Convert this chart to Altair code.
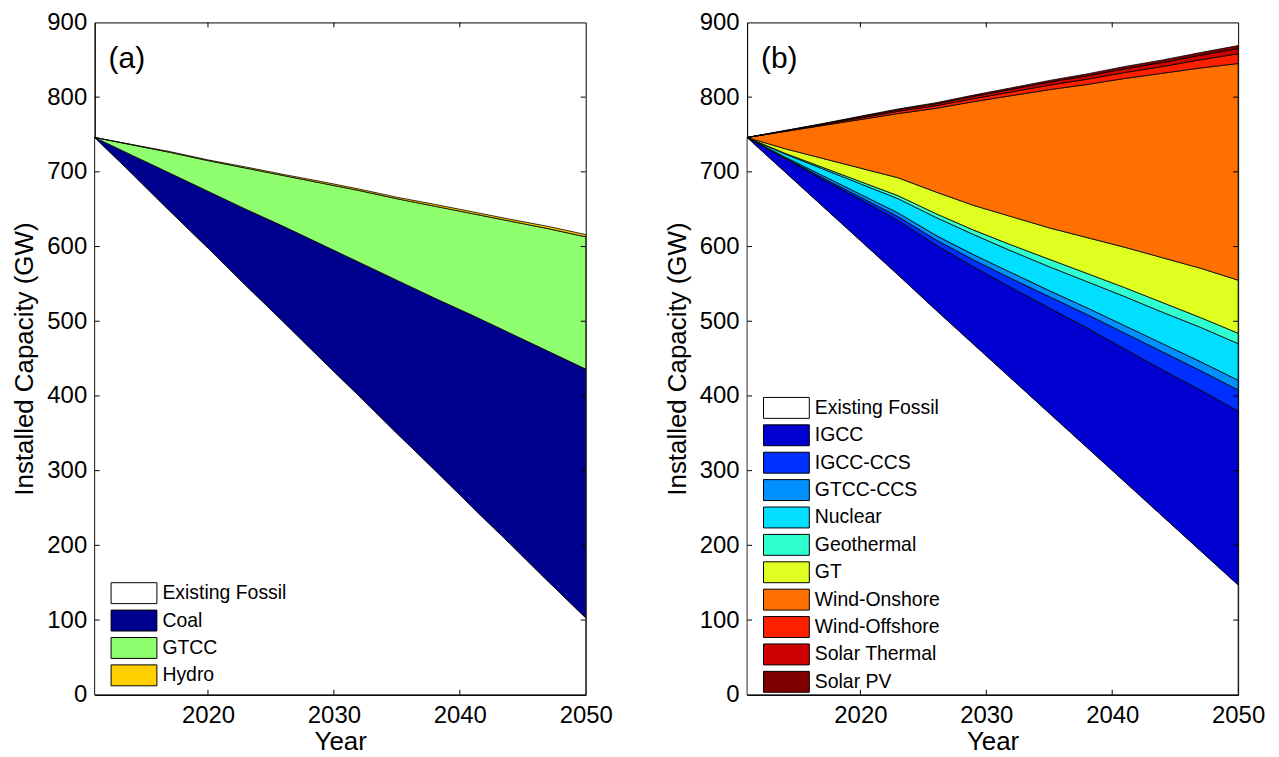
import altair as alt
import pandas as pd

FONT = "Liberation Sans"

years = [2011, 2014, 2017, 2020, 2023, 2026, 2029, 2032, 2035, 2038, 2041, 2044, 2047, 2050]

# Panel (a) layer values (GW)
a_names = ["Existing Fossil", "Coal", "GTCC", "Hydro"]
a_colors = ["#FFFFFF", "#00008F", "#8FFF70", "#FFCF00"]
a_existing = [746, 697, 647, 598, 548, 499, 449, 400, 350, 301, 251, 202, 152, 103]
a_coal = [0, 25, 51, 76, 102, 128, 154, 179, 205, 230, 257, 282, 308, 333]
a_gtcc = [0, 14, 28, 41, 55, 68, 82, 96, 109, 123, 136, 150, 164, 177]
a_hydro = [0, 0.5, 1, 1, 1.5, 1.5, 2, 2, 2, 2.5, 2.5, 2.5, 3, 3]

# Panel (b) layer values (GW)
b_names = ["Existing Fossil", "IGCC", "IGCC-CCS", "GTCC-CCS", "Nuclear", "Geothermal",
           "GT", "Wind-Onshore", "Wind-Offshore", "Solar Thermal", "Solar PV"]
b_colors = ["#FFFFFF", "#0000D0", "#0030FF", "#0090FF", "#00DFFF", "#30FFCF",
            "#DFFF20", "#FF7000", "#FF2000", "#CF0000", "#800000"]
b_existing = [746, 700, 654, 608, 562, 515, 469, 423, 377, 331, 285, 239, 193, 147]
b_igcc = [0, 18, 36, 55, 73, 87, 104, 122, 141, 160, 178, 196, 215, 233]
b_igcc_ccs = [0, 1, 2, 3, 5, 7, 9, 12, 15, 18, 21, 24, 26, 28]
b_gtcc_ccs = [0, 1, 3, 4, 5, 6, 7, 8, 8, 9, 10, 11, 12, 13]
b_nuclear = [0, 4, 9, 14, 19, 24, 27, 29, 32, 35, 39, 42, 46, 49]
b_geo = [0, 1, 2, 3, 4, 5, 6, 8, 10, 11, 12, 13, 13, 14]
b_gt = [0, 6, 12, 18, 24, 29, 33, 38, 42, 48, 54, 60, 66, 71]
b_wind_on = [0, 23, 44, 65, 86, 112, 139, 162, 185, 205, 226, 247, 268, 290]
b_wind_off = [0, 0.5, 1, 2, 3, 3.5, 4, 5, 6, 7, 8, 9, 11, 13]
b_solar_th = [0, 0.5, 1, 1.5, 2, 2.5, 3, 3.5, 4, 4.5, 5, 5.5, 6, 7]
b_solar_pv = [0, 0.3, 0.6, 1, 1.2, 1.5, 1.8, 2, 2.3, 2.6, 3, 3.3, 3.6, 4]

y_ticks = [100, 200, 300, 400, 500, 600, 700, 800]
x_ticks = [2020, 2030, 2040]
y_labels = [0, 100, 200, 300, 400, 500, 600, 700, 800, 900]
x_labels = [2020, 2030, 2040, 2050]

W, H = 493, 675
XS = alt.Scale(domain=[2011, 2050], nice=False, zero=False)
YS = alt.Scale(domain=[0, 900], nice=False)
XA = alt.Axis(values=x_labels, format="d", title="Year", ticks=False, domain=True,
              domainColor="black", grid=False, labelFlush=False, labelPadding=9, titlePadding=1)
YA = alt.Axis(values=y_labels, title="Installed Capacity (GW)", ticks=False, domain=True,
              domainColor="black", grid=False, labelPadding=8, titlePadding=9)


def long_df(names, series):
    rows = []
    for k, (n, vals) in enumerate(zip(names, series)):
        for yr, v in zip(years, vals):
            rows.append({"year": yr, "tech": n, "value": v, "order": k})
    return pd.DataFrame(rows)


def panel(names, colors, series, tag, legend_y):
    df = long_df(names, series)
    area = alt.Chart(df).mark_area(stroke="black", strokeWidth=0.8, interpolate="linear").encode(
        x=alt.X("year:Q", scale=XS, axis=XA),
        y=alt.Y("value:Q", stack="zero", scale=YS, axis=YA),
        color=alt.Color("tech:N", scale=alt.Scale(domain=names, range=colors),
                        legend=alt.Legend(orient="none", legendX=16, legendY=legend_y, title=None,
                                          symbolType="M-1,-1L3.38,-1L3.38,1L-1,1Z", symbolSize=441,
                                          symbolStrokeColor="black", symbolStrokeWidth=1,
                                          labelFont=FONT, labelFontSize=19.5, labelColor="black",
                                          labelOffset=30, rowPadding=1.5, padding=0)),
        order=alt.Order("order:Q", sort="ascending"),
    )
    ydf = pd.DataFrame({"value": y_ticks})
    xdf = pd.DataFrame({"year": x_ticks})
    yl = alt.Chart(ydf).mark_rule(color="black").encode(
        y=alt.Y("value:Q", scale=YS, axis=YA), x=alt.value(0), x2=alt.value(5))
    yr = alt.Chart(ydf).mark_rule(color="black").encode(
        y=alt.Y("value:Q", scale=YS, axis=YA), x=alt.value(W - 5), x2=alt.value(W))
    xb = alt.Chart(xdf).mark_rule(color="black").encode(
        x=alt.X("year:Q", scale=XS, axis=XA), y=alt.value(H - 5), y2=alt.value(H))
    xt = alt.Chart(xdf).mark_rule(color="black").encode(
        x=alt.X("year:Q", scale=XS, axis=XA), y=alt.value(0), y2=alt.value(5))
    lab = alt.Chart(pd.DataFrame({"label": [tag]})).mark_text(
        align="left", baseline="alphabetic", fontSize=30, font=FONT, color="black").encode(
        x=alt.value(14), y=alt.value(46), text="label:N")
    return alt.layer(area, yl, yr, xb, xt, lab).properties(width=W, height=H)


pa = panel(a_names, a_colors, [a_existing, a_coal, a_gtcc, a_hydro], "(a)", 562)
pb = panel(b_names, b_colors,
           [b_existing, b_igcc, b_igcc_ccs, b_gtcc_ccs, b_nuclear, b_geo, b_gt,
            b_wind_on, b_wind_off, b_solar_th, b_solar_pv], "(b)", 376)

chart = alt.hconcat(pa, pb, spacing=50).resolve_scale(color="independent").properties(
    padding={"left": 3, "top": 0, "right": 5, "bottom": 0}, background="white"
).configure_view(stroke="#000000", strokeWidth=1).configure_axis(
    labelFont=FONT, labelFontSize=24, labelColor="black",
    titleFont=FONT, titleFontSize=26, titleFontWeight="normal", titleColor="black"
)

chart.save("out.html", embed_options={"renderer": "svg", "actions": False})
